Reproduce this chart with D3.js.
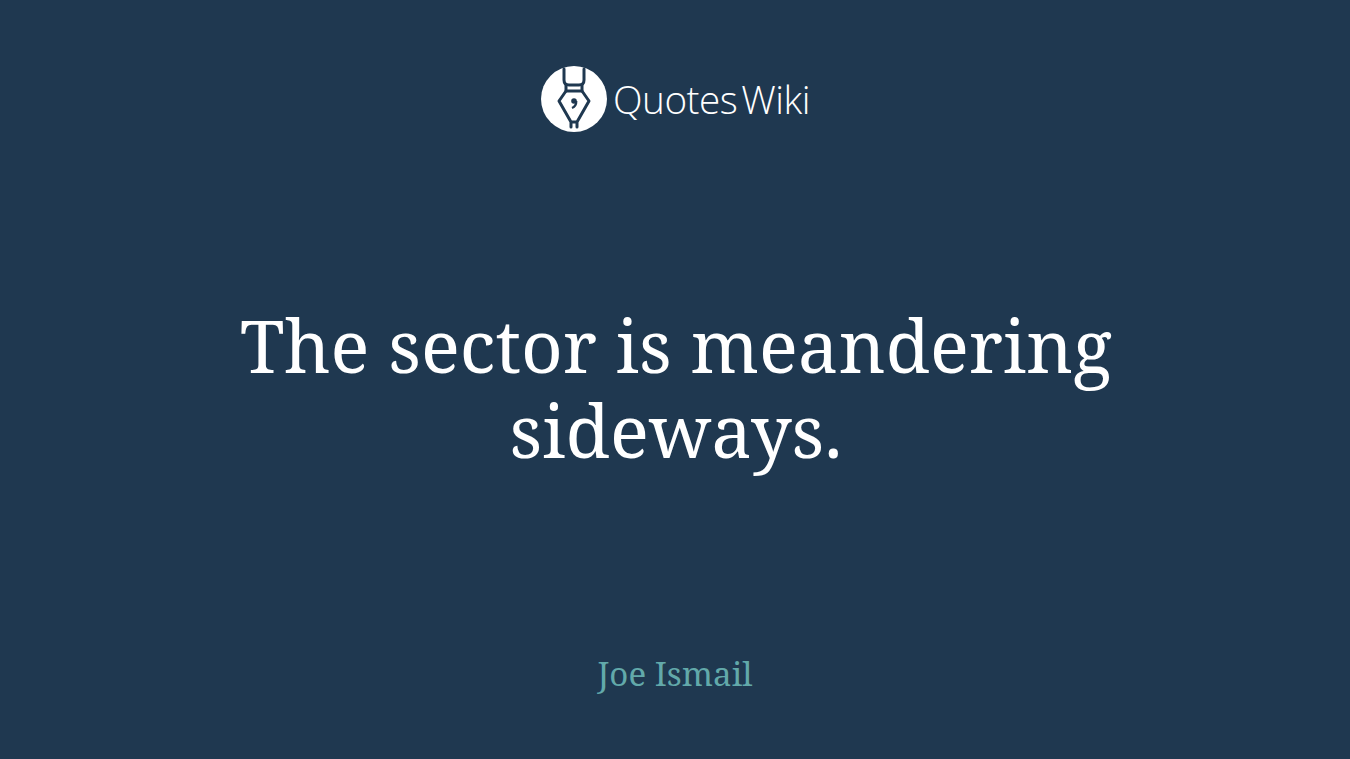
<!DOCTYPE html>
<html>
<head>
<meta charset="utf-8">
<script src="https://cdn.jsdelivr.net/npm/d3@7"></script>
<style>
  html, body { margin: 0; padding: 0; background: #1f3850; overflow: hidden; }
</style>
</head>
<body>
<div id="card"></div>
<script>
// Texts on the card
var brandWords = ["Quotes", "Wiki"];
var quoteLines = ["The sector is meandering", "sideways."];
var authorNames = ["Joe Ismail"];

var W = 1350, H = 759;
var bg = "#1f3850";

var svg = d3.select("#card").append("svg")
    .attr("width", W)
    .attr("height", H);

svg.append("rect")
    .attr("width", W)
    .attr("height", H)
    .attr("fill", bg);

// Logo: white disc with a pen nib cut out of it
var logo = svg.append("g").attr("class", "logo");
var cx = 574, cy = 99;
logo.append("circle")
    .attr("cx", cx).attr("cy", cy).attr("r", 33)
    .attr("fill", "#ffffff");

var nib = logo.append("g")
    .attr("fill", "none")
    .attr("stroke", bg)
    .attr("stroke-width", 3)
    .attr("stroke-linejoin", "round")
    .attr("stroke-linecap", "round");

// cap
nib.append("path")
    .attr("d", "M564,69 L564,80 Q564,85 569,85 L579,85 Q584,85 584,80 L584,69");
// collar
nib.append("path")
    .attr("d", "M566,85 L566,91 L582,91 L582,85");
// nib body
nib.append("path")
    .attr("d", "M566,91 L559,101 L571,122 L571,127 M582,91 L589,101 L577,122 L577,127 M571,122 L577,122");
// slit "comma"
logo.append("circle")
    .attr("cx", 574).attr("cy", 101).attr("r", 2.8)
    .attr("fill", bg);
logo.append("path")
    .attr("d", "M576.3,101 Q576.5,106 572,108")
    .attr("fill", "none")
    .attr("stroke", bg)
    .attr("stroke-width", 2.2);

var brand = svg.append("text")
    .attr("x", 613)
    .attr("y", 114)
    .attr("fill", "#ffffff")
    .style("font-family", "'Open Sans', 'Noto Sans', sans-serif")
    .style("font-weight", 300)
    .style("font-size", "38px")
    .style("letter-spacing", "-0.5px");
brand.selectAll("tspan")
    .data(brandWords)
    .enter()
    .append("tspan")
    .attr("dx", function(d, i) { return i ? 4 : 0; })
    .text(function(d) { return d; });
brand.attr("textLength", 197).attr("lengthAdjust", "spacingAndGlyphs");

// Quote
var serif = "'Noto Serif', 'Droid Serif', 'DejaVu Serif', 'Liberation Serif', serif";
var lineBase = [373, 458];
var firstWidth = 872;

var q = svg.append("g").attr("class", "quote");
var probe = q.append("text")
    .style("font-family", serif)
    .style("font-size", "72px")
    .text(quoteLines[0]);
var fs = 72 * firstWidth / probe.node().getComputedTextLength();
probe.remove();

q.selectAll("text")
    .data(quoteLines)
    .enter()
    .append("text")
    .attr("x", W / 2 + 1)
    .attr("y", function(d, i) { return lineBase[i]; })
    .attr("text-anchor", "middle")
    .attr("fill", "#ffffff")
    .style("font-family", serif)
    .style("font-size", fs + "px")
    .text(function(d) { return d; });

// Author
var au = svg.append("text")
    .attr("x", 675)
    .attr("y", 686)
    .attr("text-anchor", "middle")
    .attr("fill", "#62a9aa")
    .style("font-family", serif)
    .style("font-size", "32px")
    .text(authorNames[0]);
var aw = au.node().getComputedTextLength();
au.style("font-size", (32 * 155 / aw) + "px");
</script>
</body>
</html>
